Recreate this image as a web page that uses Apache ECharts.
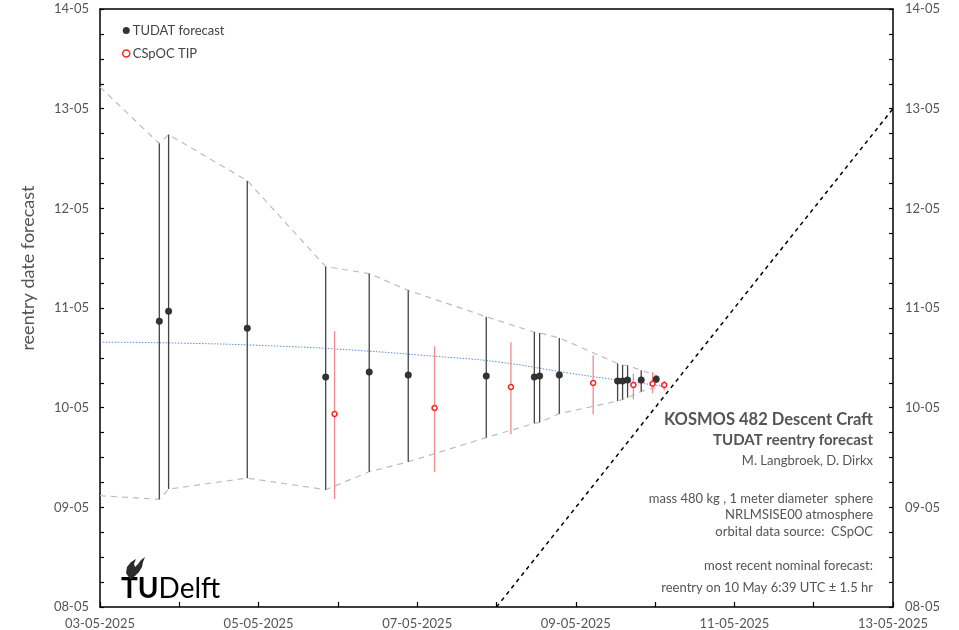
<!DOCTYPE html>
<html><head><meta charset="utf-8">
<script src="https://cdn.jsdelivr.net/npm/echarts@6/dist/echarts.min.js"></script>
<style>html,body{margin:0;padding:0;background:#fff}#c{width:959px;height:630px}</style>
</head><body><div id="c"></div>
<script>
// All values are days of May 2025 (fractional days)
// TUDAT forecasts: epoch (x), nominal reentry (y), lower / upper bound
const tudatX  = [3.748, 3.865, 4.857, 5.846, 6.395, 6.887, 7.871, 8.477, 8.544, 8.792, 9.527, 9.590, 9.653, 9.825, 10.014];
const tudatY  = [10.867, 10.967, 10.797, 10.307, 10.357, 10.327, 10.317, 10.307, 10.317, 10.327, 10.267, 10.267, 10.277, 10.277, 10.285];
const tudatLo = [9.08, 9.183, 9.293, 9.177, 9.357, 9.457, 9.70, 9.843, 9.853, 9.94, 10.067, 10.083, 10.10, 10.163, 10.25];
const tudatHi = [12.65, 12.74, 12.277, 11.415, 11.345, 11.177, 10.913, 10.757, 10.75, 10.70, 10.443, 10.427, 10.423, 10.375, 10.323];
// CSpOC TIP messages
const tipX  = [5.958, 7.219, 8.182, 9.219, 9.726, 9.968, 10.115];
const tipY  = [9.937, 9.997, 10.207, 10.247, 10.227, 10.24, 10.227];
const tipLo = [9.083, 9.357, 9.733, 9.933, 10.083, 10.143, 10.173];
const tipHi = [10.767, 10.617, 10.657, 10.527, 10.34, 10.357, 10.27];
// envelope (dashed grey) extra start / end points
const envUpperStart = [3.0, 13.217];
const envUpperEnd   = [10.09, 10.30];
const envLowerStart = [3.0, 9.117];
const envLowerEnd   = [10.09, 10.22];
// blue dotted trend of nominal forecasts
const trendX = [3.0, 4.05, 5.27, 6.2, 7.2, 8.04, 8.89, 9.5, 9.94, 10.15];
const trendY = [10.657, 10.647, 10.617, 10.577, 10.517, 10.457, 10.35, 10.28, 10.233, 10.21];
// diagonal: reentry date = forecast date
const diagX = [8, 13];
const diagY = [8, 13];
// tick labels
const xLabelDays = [3, 5, 7, 9, 11, 13];
const yLabelDays = [8, 9, 10, 11, 12, 13, 14];

const pad = v => (v < 10 ? '0' : '') + v;
const FONT = 'Lato';
const TXT = '#555';

const zip = (a, b) => a.map((v, i) => [v, b[i]]);
const upperEnv = [envUpperStart].concat(zip(tudatX, tudatHi), [envUpperEnd]);
const lowerEnv = [envLowerStart].concat(zip(tudatX.slice(0, 14), tudatLo.slice(0, 14)), [envLowerEnd]);

function barRender(color) {
  return function (params, api) {
    const x = api.value(0), lo = api.value(1), hi = api.value(2);
    const p1 = api.coord([x, lo]), p2 = api.coord([x, hi]);
    return { type: 'line', shape: { x1: p1[0], y1: p1[1], x2: p2[0], y2: p2[1] },
      style: { stroke: color, lineWidth: 1.3 } };
  };
}

const yAxisBase = {
  type: 'value', min: 8, max: 14, interval: 1,
  axisLine: { show: true, lineStyle: { color: '#000', width: 1.5 } },
  axisTick: { show: true, inside: true, length: 4, lineStyle: { color: '#000', width: 1.2 } },
  minorTick: { show: true, splitNumber: 4, length: 4, lineStyle: { color: '#000', width: 1.2 } },
  splitLine: { show: false },
  axisLabel: { color: TXT, fontFamily: FONT, fontSize: 13,
    formatter: v => yLabelDays.indexOf(v) >= 0 ? pad(v) + '-05' : '' }
};

const chart = echarts.init(document.getElementById('c'), null, { renderer: 'canvas' });
chart.setOption({
  animation: false,
  backgroundColor: '#fff',
  grid: { left: 100, right: 66, top: 9, bottom: 18.5, containLabel: false },
  xAxis: [{
    type: 'value', min: 3, max: 13, interval: 1, position: 'bottom',
    axisLine: { show: true, onZero: false, lineStyle: { color: '#000', width: 1.5 } },
    axisTick: { show: true, inside: true, length: 5, lineStyle: { color: '#000', width: 1.2 } },
    splitLine: { show: false },
    axisLabel: { color: TXT, fontFamily: FONT, fontSize: 13, margin: 10,
      formatter: v => xLabelDays.indexOf(v) >= 0 ? pad(v) + '-05-2025' : '' }
  }, {
    type: 'value', min: 3, max: 13, position: 'top',
    axisLine: { show: true, onZero: false, lineStyle: { color: '#000', width: 1.5 } },
    axisTick: { show: false }, axisLabel: { show: false }, splitLine: { show: false }
  }],
  yAxis: [
    Object.assign({}, yAxisBase, { position: 'left',
      axisLabel: Object.assign({}, yAxisBase.axisLabel, { margin: 11 }) }),
    Object.assign({}, yAxisBase, { position: 'right',
      axisLabel: Object.assign({}, yAxisBase.axisLabel, { margin: 12 }) })
  ],
  legend: {
    orient: 'vertical', left: 122, top: 24, padding: 0, itemGap: 10, itemWidth: 7, itemHeight: 7,
    textStyle: { color: '#444', fontFamily: FONT, fontSize: 13, padding: [0, 0, 0, -2] },
    data: [
      { name: 'TUDAT forecast', icon: 'circle', itemStyle: { color: '#333', borderWidth: 0 } },
      { name: 'CSpOC TIP', icon: 'circle', itemStyle: { color: '#fff', borderColor: '#ff2020', borderWidth: 1.5 } }
    ]
  },
  series: [
    { type: 'line', name: 'upper', data: upperEnv, symbol: 'none', silent: true,
      lineStyle: { color: '#bdbdbd', width: 1.2, type: [6, 5] }, z: 1 },
    { type: 'line', name: 'lower', data: lowerEnv, symbol: 'none', silent: true,
      lineStyle: { color: '#bdbdbd', width: 1.2, type: [6, 5] }, z: 1 },
    { type: 'line', name: 'trend', data: zip(trendX, trendY), symbol: 'none', smooth: true, silent: true,
      lineStyle: { color: '#5b8fd8', width: 1, type: [1.5, 1.5] }, z: 2 },
    { type: 'line', name: 'diag', data: zip(diagX, diagY), symbol: 'none', silent: true,
      lineStyle: { color: '#000', width: 1.5, type: [4, 4] }, z: 2 },
    { type: 'custom', name: 'TUDAT bars', renderItem: barRender('#444'),
      data: tudatX.map((x, i) => [x, tudatLo[i], tudatHi[i]]),
      encode: { x: 0, y: [1, 2] }, z: 3 },
    { type: 'custom', name: 'TIP bars', renderItem: barRender('#f08a8a'),
      data: tipX.map((x, i) => [x, tipLo[i], tipHi[i]]),
      encode: { x: 0, y: [1, 2] }, z: 3 },
    { type: 'scatter', name: 'TUDAT forecast', data: zip(tudatX, tudatY), symbol: 'circle', symbolSize: 6.5,
      itemStyle: { color: '#333', borderColor: '#222', borderWidth: 0.5, opacity: 1 }, z: 5 },
    { type: 'scatter', name: 'CSpOC TIP', data: zip(tipX, tipY), symbol: 'circle', symbolSize: 5,
      itemStyle: { color: '#fff', borderColor: '#ff2020', borderWidth: 1.5, opacity: 1 }, z: 5 }
  ],
  graphic: [
    { type: 'text', x: 28, y: 268, rotation: Math.PI / 2,
      style: { text: 'reentry date forecast', fill: TXT, font: '18px Lato', align: 'center', verticalAlign: 'middle' } },
    { type: 'text', right: 86, top: 411, style: { text: 'KOSMOS 482 Descent Craft', fill: TXT, font: 'bold 16.5px Lato' } },
    { type: 'text', right: 86, top: 433, style: { text: 'TUDAT reentry forecast', fill: TXT, font: 'bold 15px Lato' } },
    { type: 'text', right: 86, top: 454, style: { text: 'M. Langbroek, D. Dirkx', fill: TXT, font: '13px Lato' } },
    { type: 'text', right: 86, top: 492, style: { text: 'mass 480 kg , 1 meter diameter  sphere', fill: TXT, font: '13px Lato' } },
    { type: 'text', right: 86, top: 508, style: { text: 'NRLMSISE00 atmosphere', fill: TXT, font: '13px Lato' } },
    { type: 'text', right: 86, top: 525, style: { text: 'orbital data source:  CSpOC', fill: TXT, font: '13px Lato' } },
    { type: 'text', right: 86, top: 559, style: { text: 'most recent nominal forecast:', fill: TXT, font: '13px Lato' } },
    { type: 'text', right: 86, top: 581, style: { text: 'reentry on 10 May 6:39 UTC \u00b1 1.5 hr', fill: TXT, font: '13px Lato' } },
    { type: 'text', left: 121, top: 575, style: {
        text: '{a|TU}{b|Delft}',
        rich: { a: { fontFamily: 'Lato', fontWeight: 'bold', fontSize: 28, color: '#2b2b2b' },
                b: { fontFamily: 'Lato', fontSize: 28, color: '#2b2b2b' } } } },
    { type: 'polygon', shape: { points: [[130,579],[126,573],[127,567],[131,562],[136,559],[134,564],[135,567],[138,564],[141,560],[145,557],[143,562],[142,567],[139,572],[135,576],[131,579]] },
      style: { fill: '#2b2b2b' } }
  ]
});
</script></body></html>
